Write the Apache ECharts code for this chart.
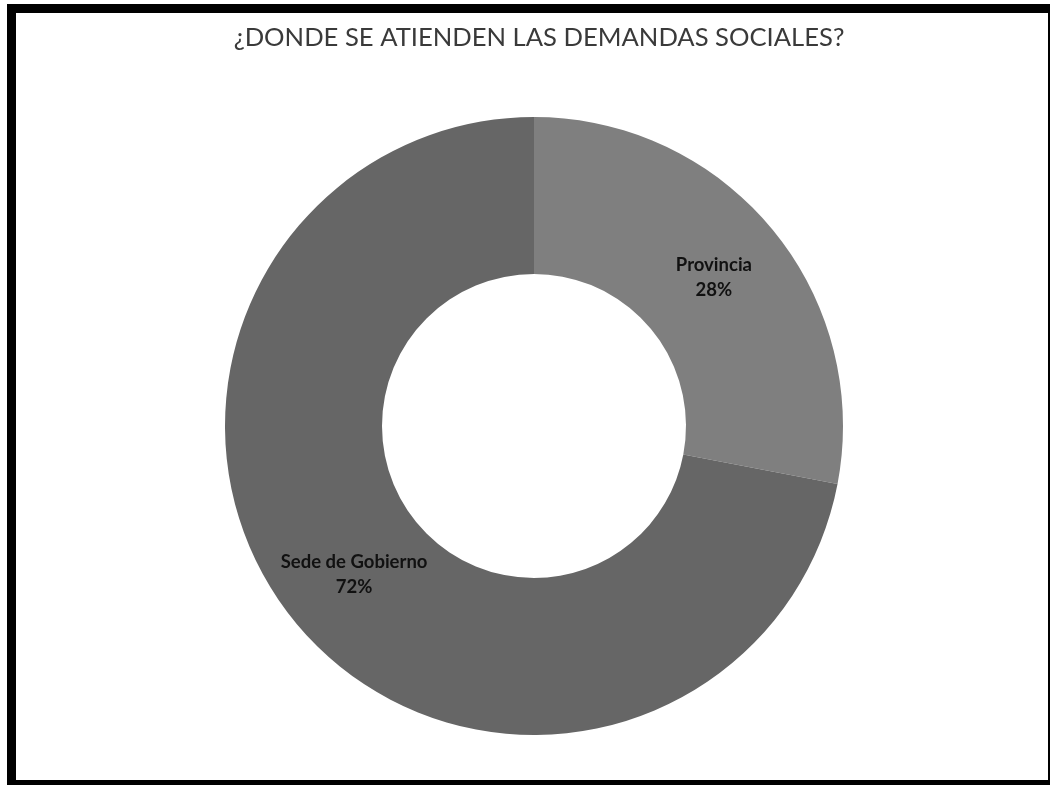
<!DOCTYPE html>
<html>
<head>
<meta charset="utf-8">
<style>
  html, body { margin: 0; padding: 0; background: #ffffff; }
  #chart { width: 1050px; height: 785px; }
</style>
<script src="https://cdn.jsdelivr.net/npm/echarts@6/dist/echarts.min.js"></script>
</head>
<body>
<div id="chart"></div>
<script>
// Where social demands are attended
const categories = ['Provincia', 'Sede de Gobierno'];
const shares = [28, 72];
const sliceColors = ['#7f7f7f', '#666666'];
const titleText = '¿DONDE SE ATIENDEN LAS DEMANDAS SOCIALES?';

const chart = echarts.init(document.getElementById('chart'));

chart.setOption({
  backgroundColor: '#ffffff',
  animation: false,
  title: {
    text: titleText,
    left: 534,
    textAlign: 'center',
    top: 20,
    textStyle: {
      fontFamily: 'Lato',
      fontSize: 25.6,
      fontWeight: 'normal',
      color: '#3a3a3a'
    }
  },
  graphic: [
    // black frame around the chart area
    { type: 'rect', shape: { x: 7, y: 4, width: 1043, height: 9 }, style: { fill: '#000' } },
    { type: 'rect', shape: { x: 7, y: 4, width: 9, height: 781 }, style: { fill: '#000' } },
    { type: 'rect', shape: { x: 7, y: 780, width: 1043, height: 5 }, style: { fill: '#000' } },
    { type: 'rect', shape: { x: 1048, y: 4, width: 2, height: 781 }, style: { fill: '#000' } }
  ],
  series: [{
    type: 'pie',
    center: [534, 426],
    radius: [152, 309],
    startAngle: 90,
    clockwise: true,
    avoidLabelOverlap: false,
    silent: true,
    itemStyle: { borderWidth: 0 },
    label: {
      show: true,
      position: 'inside',
      formatter: '{b}\n{d}%',
      fontFamily: 'Lato',
      fontSize: 18.5,
      fontWeight: 'bold',
      lineHeight: 25,
      color: '#111111',
      align: 'center'
    },
    labelLine: { show: false },
    data: categories.map((name, i) => ({
      name: name,
      value: shares[i],
      itemStyle: { color: sliceColors[i] }
    }))
  }]
});
</script>
</body>
</html>
